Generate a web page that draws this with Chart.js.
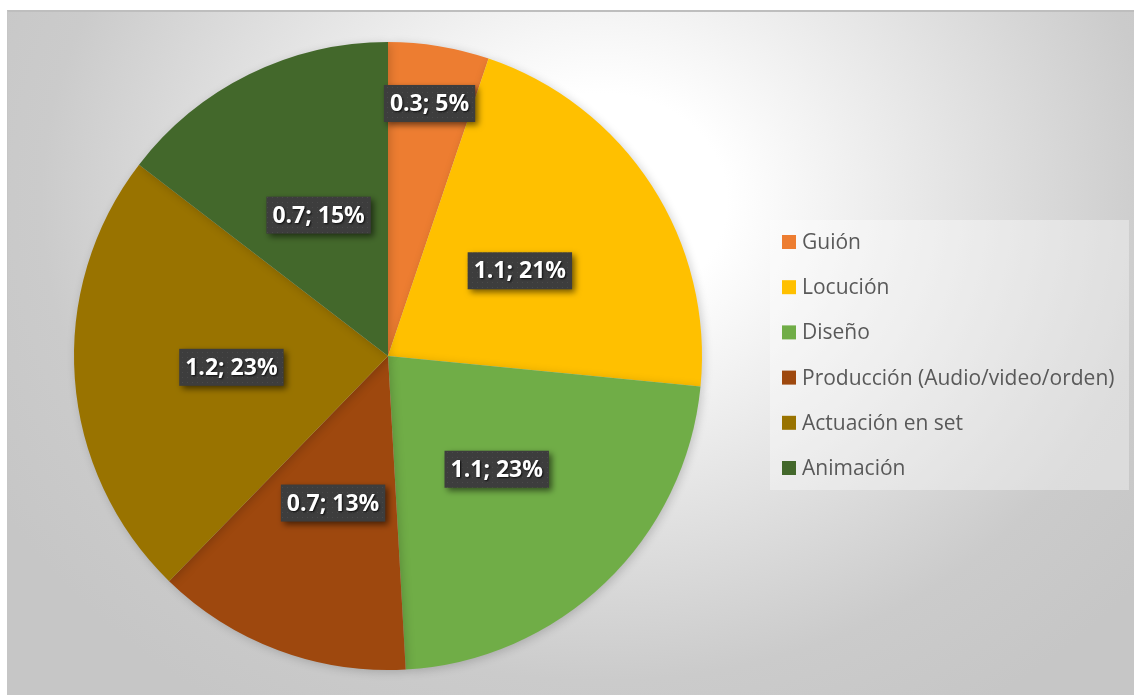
<!DOCTYPE html>
<html>
<head>
<meta charset="utf-8">
<script src="https://cdn.jsdelivr.net/npm/chart.js@4/dist/chart.umd.min.js"></script>
<style>
  html, body { margin: 0; padding: 0; background: #fff; }
  #frame {
    position: absolute; left: 7px; top: 10px; width: 1127px; height: 685px;
    border-top: 2px solid #bebebe; border-left: 1px solid #c6c6c6;
    box-sizing: border-box;
    background: radial-gradient(ellipse 700px 600px at 593px 189px, #ffffff 0%, #ffffff 18%, #cbcbcb 80%, #c6c6c6 100%);
  }
  #wrap { position: absolute; left: 0; top: 0; width: 1134px; height: 695px; }
</style>
</head>
<body>
<div id="frame"></div>
<div id="wrap"><canvas id="pieChart"></canvas></div>
<script>
// categories and values
const categories = ['Guión', 'Locución', 'Diseño', 'Producción (Audio/video/orden)', 'Actuación en set', 'Animación'];
const values = [0.26, 1.07, 1.13, 0.66, 1.16, 0.73];
const sliceColors = ['#ED7D31', '#FFC000', '#70AD47', '#9E480E', '#997300', '#43682B'];

document.addEventListener('DOMContentLoaded', function() {
    const canvas = document.getElementById('pieChart');

    // dotted dark fill for the data label boxes
    const makePattern = (ctx) => {
        const p = document.createElement('canvas');
        p.width = 5; p.height = 5;
        const pc = p.getContext('2d');
        pc.fillStyle = '#3d3d3d';
        pc.fillRect(0, 0, 5, 5);
        pc.fillStyle = '#4a4a4a';
        pc.fillRect(2, 2, 1, 1);
        return ctx.createPattern(p, 'repeat');
    };

    const dataLabels = {
        id: 'dataLabels',
        afterDatasetsDraw(chart) {
            const ctx = chart.ctx;
            const meta = chart.getDatasetMeta(0);
            const data = chart.data.datasets[0].data;
            const total = data.reduce((a, b) => a + b, 0);
            const fill = makePattern(ctx);
            ctx.save();
            ctx.font = 'bold 23px "Open Sans", sans-serif';
            ctx.textAlign = 'center';
            ctx.textBaseline = 'middle';
            meta.data.forEach((arc, i) => {
                const p = arc.getProps(['x', 'y', 'startAngle', 'endAngle', 'outerRadius'], true);
                const mid = (p.startAngle + p.endAngle) / 2;
                const frac = (p.endAngle - p.startAngle) / (Math.PI * 2);
                // small slices get their label pushed outward
                const r = p.outerRadius * (frac < 0.08 ? 0.815 : 0.5);
                const cx = p.x + Math.cos(mid) * r;
                const cy = p.y + Math.sin(mid) * r;
                const text = data[i].toFixed(1) + '; ' + Math.round(data[i] / total * 100) + '%';
                const w = ctx.measureText(text).width + 12;
                const h = 37;
                ctx.save();
                ctx.shadowColor = 'rgba(0,0,0,0.55)';
                ctx.shadowBlur = 6;
                ctx.shadowOffsetX = 3;
                ctx.shadowOffsetY = 3;
                ctx.fillStyle = fill;
                ctx.fillRect(cx - w / 2, cy - h / 2, w, h);
                ctx.restore();
                ctx.save();
                ctx.shadowColor = 'rgba(0,0,0,0.8)';
                ctx.shadowBlur = 2;
                ctx.shadowOffsetX = 1;
                ctx.shadowOffsetY = 1;
                ctx.fillStyle = '#ffffff';
                ctx.fillText(text, cx, cy + 1);
                ctx.restore();
            });
            ctx.restore();
        }
    };

    const legendBox = {
        id: 'legendBox',
        afterDraw(chart) {
            const ctx = chart.ctx;
            const labels = chart.data.labels;
            const colors = chart.data.datasets[0].backgroundColor;
            ctx.save();
            ctx.fillStyle = 'rgba(255,255,255,0.35)';
            ctx.fillRect(770, 220, 359, 270);
            ctx.font = '21px "Open Sans", sans-serif';
            ctx.textBaseline = 'middle';
            labels.forEach((label, i) => {
                const y = 242 + i * 45.2;
                ctx.fillStyle = colors[i];
                ctx.fillRect(782, y - 7, 14, 14);
                ctx.fillStyle = '#595959';
                ctx.fillText(label, 802, y + 1);
            });
            ctx.restore();
        }
    };

    const pieShadow = {
        id: 'pieShadow',
        beforeDatasetsDraw(chart) {
            const ctx = chart.ctx;
            ctx.save();
            ctx.shadowColor = 'rgba(0,0,0,0.18)';
            ctx.shadowBlur = 10;
            ctx.shadowOffsetX = 2;
            ctx.shadowOffsetY = 2;
        },
        afterDatasetsDraw(chart) {
            chart.ctx.restore();
        }
    };

    new Chart(canvas, {
        type: 'pie',
        data: {
            labels: categories,
            datasets: [{
                data: values,
                backgroundColor: sliceColors,
                borderWidth: 0
            }]
        },
        options: {
            responsive: true,
            maintainAspectRatio: false,
            animation: false,
            layout: {
                padding: { left: 74, top: 42, right: 432, bottom: 25 }
            },
            plugins: {
                legend: { display: false },
                tooltip: { enabled: false }
            }
        },
        plugins: [pieShadow, dataLabels, legendBox]
    });
});
</script>
</body>
</html>
